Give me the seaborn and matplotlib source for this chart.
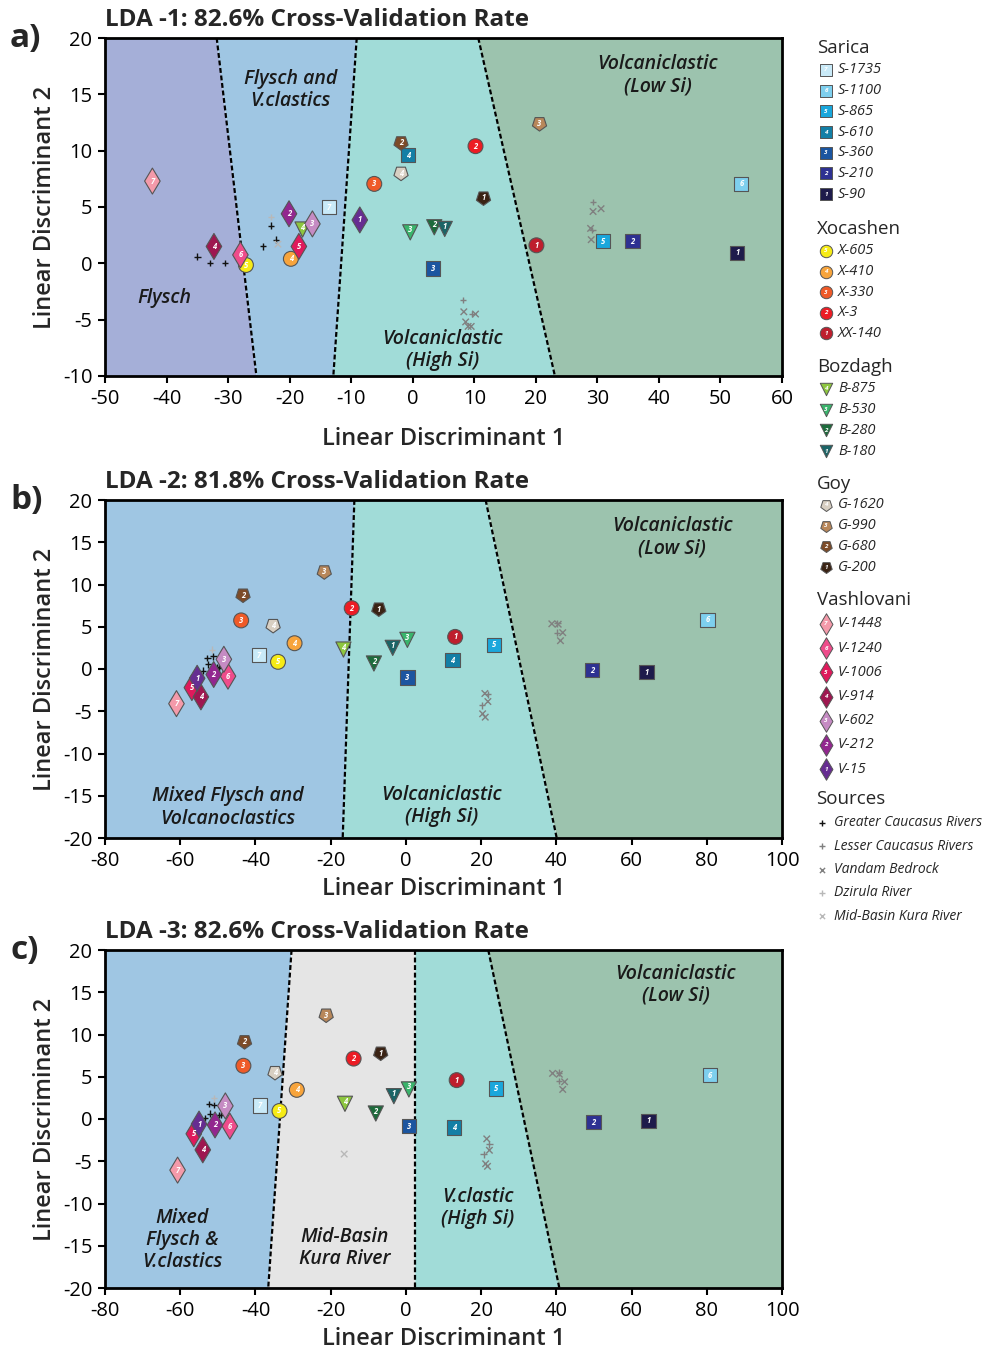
import pandas as pd
import matplotlib
matplotlib.use("Agg")
import matplotlib.pyplot as plt
from matplotlib.markers import MarkerStyle
from matplotlib.transforms import Affine2D
import seaborn as sns

# === 1. Samples (order is shared by all three panels) ===
samples = ["S-1735", "S-1100", "S-865", "S-610", "S-360", "S-210", "S-90",
           "X-605", "X-410", "X-330", "X-3", "XX-140",
           "B-875", "B-530", "B-280", "B-180",
           "G-1620", "G-990", "G-680", "G-200",
           "V-1448", "V-1240", "V-1006", "V-914", "V-602", "V-212", "V-15"]
groups = ["Sarica"] * 7 + ["Xocashen"] * 5 + ["Bozdagh"] * 4 + ["Goy"] * 4 + ["Vashlovani"] * 7
numbers = ["7", "6", "5", "4", "3", "2", "1",
           "5", "4", "3", "2", "1",
           "4", "3", "2", "1",
           "4", "3", "2", "1",
           "7", "6", "5", "4", "3", "2", "1"]
sample_colors = ["#C9EAF8", "#7ECFEE", "#1AA7DC", "#137FA6", "#1B55A0", "#2E3192", "#1E1B4B",
                 "#F6EB16", "#F7A43C", "#EF5A28", "#EC1C24", "#BE1E2D",
                 "#8DC63F", "#39B46B", "#1C6B3B", "#1B6466",
                 "#D8CFC2", "#B8875A", "#7C4B28", "#3A2314",
                 "#F49AAA", "#EE4C8B", "#DF1A5C", "#9E1750", "#C58BC3", "#92278F", "#662D91"]

# LDA-1 scores
a_x = [-13.6, 53.4, 30.9, -0.8, 3.3, 35.7, 52.7,
       -27.1, -19.8, -6.25, 10.2, 20.1,
       -17.9, -0.4, 3.5, 5.2,
       -1.9, 20.6, -1.9, 11.5,
       -42.3, -28.0, -18.5, -32.3, -16.3, -20.1, -8.6]
a_y = [5.0, 7.05, 1.95, 9.6, -0.45, 1.95, 0.95,
       -0.15, 0.4, 7.05, 10.4, 1.6,
       3.0, 2.75, 3.2, 3.05,
       8.0, 12.4, 10.7, 5.8,
       7.3, 0.75, 1.5, 1.5, 3.5, 4.4, 3.85]
# LDA-2 scores
b_x = [-39.1, 80.2, 23.4, 12.4, 0.4, 49.5, 64.0,
       -34.0, -29.6, -43.8, -14.4, 13.1,
       -16.6, 0.4, -8.5, -3.5,
       -35.3, -21.7, -43.3, -7.2,
       -61.0, -47.3, -56.9, -54.5, -48.4, -51.1, -55.5]
b_y = [1.65, 5.8, 2.85, 1.05, -1.0, -0.15, -0.4,
       0.85, 3.05, 5.75, 7.2, 3.8,
       2.3, 3.45, 0.65, 2.5,
       5.15, 11.5, 8.75, 7.1,
       -4.1, -0.85, -2.2, -3.3, 1.15, -0.65, -1.1]
# LDA-3 scores
c_x = [-38.8, 80.8, 24.0, 12.8, 0.75, 49.9, 64.5,
       -33.6, -29.0, -43.2, -13.9, 13.5,
       -16.2, 0.8, -8.0, -3.2,
       -34.8, -21.2, -42.9, -6.7,
       -60.7, -46.8, -56.4, -54.0, -48.0, -50.75, -55.0]
c_y = [1.6, 5.2, 3.6, -1.0, -0.85, -0.4, -0.2,
       0.95, 3.45, 6.3, 7.15, 4.6,
       1.8, 3.5, 0.65, 2.7,
       5.5, 12.3, 9.15, 7.8,
       -6.05, -0.85, -1.75, -3.65, 1.55, -0.7, -0.6]

# === 2. Source samples ===
src_names = ["Greater Caucasus Rivers", "Lesser Caucasus Rivers", "Vandam Bedrock",
             "Dzirula River", "Mid-Basin Kura River"]
src_markers = ["+", "+", "x", "+", "x"]
src_colors = ["#111111", "#808080", "#808080", "#b8b8b8", "#b8b8b8"]

GC, LC, VB, DZ, MK = src_names
a_src = [GC] * 6 + [DZ, MK] + [LC] * 4 + [VB] * 9
a_src_x = [-35.0, -32.9, -30.5, -24.3, -23.0, -22.2, -23.0, -21.9,
           29.3, 29.2, 8.2, 9.6,
           29.3, 30.6, 28.9, 29.0, 8.3, 10.2, 8.6, 9.0, 9.5]
a_src_y = [0.6, 0.05, 0.05, 1.5, 3.35, 2.1, 4.1, 1.7,
           5.45, 2.95, -3.25, -4.5,
           4.6, 4.85, 3.1, 2.1, -4.3, -4.5, -5.2, -5.6, -5.6]
b_src = [GC] * 6 + [DZ] + [LC] * 4 + [VB] * 8
b_src_x = [-52.8, -51.2, -52.5, -53.9, -50.1, -49.6, -51.5,
           40.3, 40.2, 21.8, 20.2,
           38.8, 40.5, 41.7, 41.1, 21.0, 21.8, 20.4, 21.1]
b_src_y = [1.3, 1.5, 0.55, -0.2, 0.2, 0.15, 2.3,
           5.4, 4.3, -3.0, -4.3,
           5.35, 5.3, 4.3, 3.35, -2.9, -3.85, -5.3, -5.7]
c_src = [GC] * 6 + [DZ, MK] + [LC] * 4 + [VB] * 8
c_src_x = [-52.3, -51.0, -52.1, -53.5, -49.7, -49.2, -51.0, -16.4,
           40.7, 40.7, 22.2, 20.7,
           39.0, 40.8, 42.2, 41.7, 21.5, 22.2, 21.2, 21.7]
c_src_y = [1.8, 1.65, 0.65, 0.1, 0.45, 0.5, 2.45, -4.15,
           5.5, 4.5, -3.0, -4.2,
           5.4, 5.3, 4.4, 3.5, -2.35, -3.7, -5.3, -5.6]

# === 3. Discriminant field boundaries (x at top / bottom of each panel) ===
FLY, FVC, HSI, LSI, MID = "#A5AFD8", "#9FC6E3", "#A1DCD8", "#9CC3AE", "#E5E5E5"
a_bound_top = [-31.85, -9.1, 10.65]
a_bound_bot = [-25.4, -12.9, 23.1]
a_fields = [FLY, FVC, HSI, LSI]
b_bound_top = [-13.7, 21.2]
b_bound_bot = [-16.8, 40.1]
b_fields = [FVC, HSI, LSI]
c_bound_top = [-30.4, 2.5, 21.9]
c_bound_bot = [-36.6, 2.5, 40.8]
c_fields = [FVC, MID, HSI, LSI]

a_labels = [("Flysch", -40.3, -3.1), ("Flysch and\nV.clastics", -19.9, 15.4),
            ("Volcaniclastic\n(Low Si)", 39.8, 16.7), ("Volcaniclastic\n(High Si)", 4.9, -7.7)]
b_labels = [("Mixed Flysch and\nVolcanoclastics", -47.3, -16.4),
            ("Volcaniclastic\n(High Si)", 9.6, -16.2), ("Volcaniclastic\n(Low Si)", 70.8, 15.6)]
c_labels = [("Mixed\nFlysch &\nV.clastics", -59.5, -14.3), ("Mid-Basin\nKura River", -16.2, -15.3),
            ("V.clastic\n(High Si)", 19.2, -10.5), ("Volcaniclastic\n(Low Si)", 71.8, 15.9)]

titles = ["LDA -1: 82.6% Cross-Validation Rate",
          "LDA -2: 81.8% Cross-Validation Rate",
          "LDA -3: 82.6% Cross-Validation Rate"]

# === 4. Style ===
sns.set_theme(style="ticks")
plt.rcParams["font.family"] = ["Open Sans", "DejaVu Sans"]
plt.rcParams["axes.unicode_minus"] = False

pent = MarkerStyle("p", transform=Affine2D().rotate_deg(180))
group_markers = {"Sarica": "s", "Xocashen": "o", "Bozdagh": "v", "Goy": pent, "Vashlovani": "d"}
group_sizes = {"Sarica": 105, "Xocashen": 115, "Bozdagh": 120, "Goy": 115, "Vashlovani": 175}
palette = dict(zip(samples, sample_colors))
src_pal = dict(zip(src_names, src_colors))
src_mk = dict(zip(src_names, src_markers))

W, H = 984, 1350
fig = plt.figure(figsize=(W / 100, H / 100), dpi=100)


def px_axes(left, top, right, bottom):
    return fig.add_axes([left / W, 1 - bottom / H, (right - left) / W, (bottom - top) / H])


panels = [
    dict(top=38, xs=a_x, ys=a_y, sx=a_src_x, sy=a_src_y, st=a_src, xlim=(-50, 60), ylim=(-10, 20),
         xt=range(-50, 61, 10), yt=range(-10, 21, 5), bt=a_bound_top, bb=a_bound_bot, f=a_fields,
         lab=a_labels, letter="a)", pad=13),
    dict(top=500, xs=b_x, ys=b_y, sx=b_src_x, sy=b_src_y, st=b_src, xlim=(-80, 100), ylim=(-20, 20),
         xt=range(-80, 101, 20), yt=range(-20, 21, 5), bt=b_bound_top, bb=b_bound_bot, f=b_fields,
         lab=b_labels, letter="b)", pad=5),
    dict(top=950, xs=c_x, ys=c_y, sx=c_src_x, sy=c_src_y, st=c_src, xlim=(-80, 100), ylim=(-20, 20),
         xt=range(-80, 101, 20), yt=range(-20, 21, 5), bt=c_bound_top, bb=c_bound_bot, f=c_fields,
         lab=c_labels, letter="c)", pad=5),
]

for i, p in enumerate(panels):
    ax = px_axes(105, p["top"], 782, p["top"] + 338)
    x0, x1 = p["xlim"]
    y0, y1 = p["ylim"]

    # discriminant fields
    tops = [x0] + p["bt"] + [x1]
    bots = [x0] + p["bb"] + [x1]
    for k, col in enumerate(p["f"]):
        ax.fill([tops[k], tops[k + 1], bots[k + 1], bots[k]], [y1, y1, y0, y0],
                color=col, lw=0, zorder=0)
    for t, b in zip(p["bt"], p["bb"]):
        ax.plot([t, b], [y1, y0], color="black", lw=1.6, ls=(0, (2.2, 1.2)), zorder=1)
    for txt, lx, ly in p["lab"]:
        ax.text(lx, ly, txt, ha="center", va="center", fontsize=14, style="italic",
                fontweight="semibold", color="#1a1a1a", linespacing=1.15, zorder=2)

    # source samples
    src = pd.DataFrame({"LD1": p["sx"], "LD2": p["sy"], "source": p["st"]})
    sns.scatterplot(data=src, x="LD1", y="LD2", hue="source", style="source",
                    palette=src_pal, markers=src_mk, s=22, linewidth=1.0,
                    legend=False, ax=ax, zorder=3)

    # sediment samples
    df = pd.DataFrame({"LD1": p["xs"], "LD2": p["ys"], "sample": samples,
                       "group": groups, "num": numbers})
    sns.scatterplot(data=df, x="LD1", y="LD2", hue="sample", style="group", size="group",
                    palette=palette, markers=group_markers, sizes=group_sizes,
                    edgecolor="#555555", linewidth=0.8, legend=False, ax=ax, zorder=5)
    for _, r in df.iterrows():
        dy = 1.8 if r["group"] == "Bozdagh" else 0
        ax.annotate(r["num"], (r["LD1"], r["LD2"]), xytext=(0, dy), textcoords="offset points",
                    ha="center", va="center", fontsize=5.5, fontweight="bold",
                    style="italic", color="white", zorder=6)

    ax.set_xlim(x0, x1)
    ax.set_ylim(y0, y1)
    ax.set_xticks(list(p["xt"]))
    ax.set_yticks(list(p["yt"]))
    ax.tick_params(direction="out", length=5, width=1.5, labelsize=14.5, colors="black", pad=4)
    for s in ax.spines.values():
        s.set_linewidth(2)
        s.set_color("black")
        s.set_visible(True)
    ax.set_xlabel("Linear Discriminant 1", fontsize=17, fontweight="semibold", labelpad=p["pad"])
    ax.set_ylabel("Linear Discriminant 2", fontsize=17, fontweight="semibold", labelpad=4)

    fig.text(105 / W, 1 - (p["top"] - 18) / H, titles[i], fontsize=17.5, fontweight="bold",
             va="center", ha="left")
    fig.text(10 / W, 1 - p["top"] / H, p["letter"], fontsize=24, fontweight="bold",
             va="center", ha="left")

# === 5. Legend (drawn in pixel units) ===
lax = px_axes(805, 30, 995, 935)
lax.set_xlim(805, 995)
lax.set_ylim(935, 30)
lax.axis("off")

group_names = ["Sarica", "Xocashen", "Bozdagh", "Goy", "Vashlovani"]
header_y = [48, 229, 367, 484, 600, 799]
row_step = [20.7, 20.6, 20.7, 20.7, 24.2, 23.3]
first_gap = [22, 22, 22, 21, 24, 24]
leg_sizes = {"Sarica": 70, "Xocashen": 80, "Bozdagh": 80, "Goy": 75, "Vashlovani": 120}

for g, name in enumerate(group_names):
    lax.text(817, header_y[g], name, fontsize=13.5, va="center", ha="left")
    idx = [k for k, gg in enumerate(groups) if gg == name]
    for j, k in enumerate(idx):
        yy = header_y[g] + first_gap[g] + j * row_step[g]
        lax.scatter(826, yy, marker=group_markers[name], s=leg_sizes[name],
                    color=sample_colors[k], edgecolor="#555555", linewidth=0.7)
        lax.text(826, yy, numbers[k], fontsize=4.5, fontweight="bold", style="italic",
                 color="white", ha="center", va="center")
        lax.text(838, yy, samples[k], fontsize=10.5, style="italic", va="center", ha="left")

lax.text(816, header_y[5], "Sources", fontsize=13.5, va="center", ha="left")
for j, name in enumerate(src_names):
    yy = header_y[5] + first_gap[5] + j * row_step[5]
    lax.scatter(822, yy, marker=src_markers[j], s=14, color=src_colors[j], linewidth=1.0)
    lax.text(834, yy, name, fontsize=10, style="italic", va="center", ha="left")

plt.savefig("out.png", dpi=100)
